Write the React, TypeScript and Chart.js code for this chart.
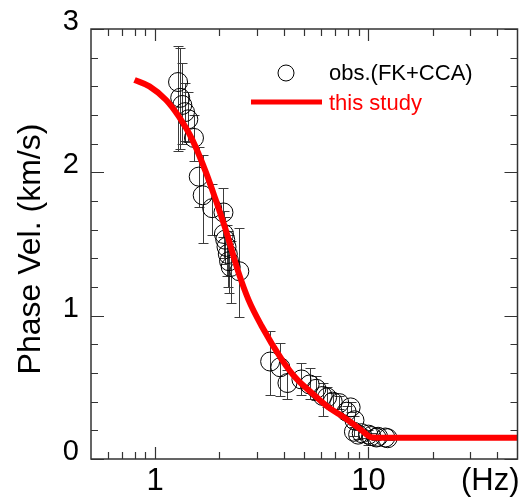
import { useEffect, useRef } from 'react';
import { Chart, registerables } from 'chart.js';

Chart.register(...registerables);

// Observed phase velocities (FK + CCA)
const obsFreq = [1.28, 1.31, 1.34, 1.38, 1.43, 1.52, 1.6, 1.67, 1.85, 2.09, 2.1, 2.13, 2.16, 2.19, 2.22, 2.26, 2.48, 3.46, 3.86, 4.17, 4.85, 5.3, 5.7, 6.1, 6.4, 6.8, 7.3, 7.9, 8.25, 8.6, 8.55, 8.95, 9.3, 10.0, 10.3, 10.9, 11.1, 12.0, 12.3];
const obsVel = [2.63, 2.52, 2.47, 2.42, 2.37, 2.24, 1.97, 1.84, 1.75, 1.72, 1.57, 1.53, 1.48, 1.43, 1.38, 1.34, 1.31, 0.68, 0.64, 0.53, 0.555, 0.52, 0.49, 0.44, 0.43, 0.4, 0.39, 0.33, 0.36, 0.27, 0.19, 0.17, 0.18, 0.17, 0.16, 0.15, 0.155, 0.15, 0.145];
const obsHigh = [2.88, 2.87, 2.76, 2.62, 2.56, 2.4, 2.18, 2.12, 1.92, 1.89, 1.73, 1.69, 1.63, 1.59, 1.56, 1.52, 1.61, 0.89, 0.81, 0.62, 0.67, 0.635, 0.58, 0.53, 0.5, 0.46, 0.44, 0.37, 0.4, 0.3, 0.22, 0.2, 0.21, 0.2, 0.18, 0.17, 0.17, 0.16, 0.155];
const obsLow = [2.15, 2.16, 2.2, 2.22, 2.21, 2.08, 1.76, 1.51, 1.56, 1.55, 1.4, 1.36, 1.28, 1.2, 1.16, 1.09, 0.99, 0.45, 0.44, 0.42, 0.45, 0.42, 0.41, 0.3, 0.36, 0.35, 0.35, 0.3, 0.33, 0.24, 0.16, 0.14, 0.15, 0.1, 0.14, 0.13, 0.14, 0.14, 0.135];

// Theoretical curve (this study)
const modelFreq = [0.8, 0.94, 1.125, 1.29, 1.49, 1.73, 1.92, 2.14, 2.46, 2.74, 3.15, 3.94, 4.53, 5.43, 6.5, 7.7, 9.3, 10.3, 12, 50];
const modelVel = [2.645, 2.6, 2.505, 2.39, 2.23, 2.0, 1.81, 1.6, 1.3, 1.11, 0.93, 0.69, 0.57, 0.46, 0.36, 0.29, 0.2, 0.152, 0.148, 0.148];

// Axes
const xMin = 0.5;
const xMax = 50;
const yMin = 0;
const yMax = 3;
const xMajorTicks = [1, 10];
const xTickLabels = ['1', '10'];
const xMinorTicks = [0.6, 0.7, 0.8, 0.9, 2, 3, 4, 5, 6, 7, 8, 9, 20, 30, 40];
const yMajorTicks = [0, 1, 2, 3];
const yTickLabels = ['0', '1', '2', '3'];
const yMinorTicks = [0.2, 0.4, 0.6, 0.8, 1.2, 1.4, 1.6, 1.8, 2.2, 2.4, 2.6, 2.8];

const xUnitLabel = '(Hz)';
const yTitle = 'Phase Vel. (km/s)';
const obsLabel = 'obs.(FK+CCA)';
const modelLabel = 'this study';

const FONT = '"Liberation Sans", Arial, sans-serif';

const decorPlugin = {
  id: 'decor',
  beforeDatasetsDraw(chart: any) {
    const { ctx, scales } = chart;
    const x = scales.x;
    const y = scales.y;
    ctx.save();
    ctx.strokeStyle = '#3c3c3c';
    ctx.lineWidth = 1;
    obsFreq.forEach((f, i) => {
      const px = Math.round(x.getPixelForValue(f)) + 0.5;
      const yh = Math.round(y.getPixelForValue(obsHigh[i])) + 0.5;
      const yl = Math.round(y.getPixelForValue(obsLow[i])) + 0.5;
      ctx.beginPath();
      ctx.moveTo(px, yh);
      ctx.lineTo(px, yl);
      ctx.moveTo(px - 5, yh);
      ctx.lineTo(px + 5, yh);
      ctx.moveTo(px - 5, yl);
      ctx.lineTo(px + 5, yl);
      ctx.stroke();
    });
    ctx.restore();
  },
  afterDraw(chart: any) {
    const { ctx, chartArea: a, scales } = chart;
    const x = scales.x;
    const y = scales.y;
    ctx.save();
    // frame
    ctx.strokeStyle = '#333';
    ctx.lineWidth = 1.5;
    ctx.strokeRect(a.left, a.top, a.right - a.left, a.bottom - a.top);
    // ticks (inward)
    ctx.lineWidth = 1.2;
    const xt = (vals: number[], len: number) => {
      vals.forEach((v) => {
        const px = Math.round(x.getPixelForValue(v)) + 0.5;
        ctx.beginPath();
        ctx.moveTo(px, a.bottom);
        ctx.lineTo(px, a.bottom - len);
        ctx.moveTo(px, a.top);
        ctx.lineTo(px, a.top + len);
        ctx.stroke();
      });
    };
    const yt = (vals: number[], len: number) => {
      vals.forEach((v) => {
        const py = Math.round(y.getPixelForValue(v)) + 0.5;
        ctx.beginPath();
        ctx.moveTo(a.left, py);
        ctx.lineTo(a.left + len, py);
        ctx.moveTo(a.right, py);
        ctx.lineTo(a.right - len, py);
        ctx.stroke();
      });
    };
    xt(xMajorTicks, 12);
    xt(xMinorTicks, 7);
    yt(yMajorTicks, 13);
    yt(yMinorTicks, 7);

    // tick labels
    ctx.fillStyle = '#000';
    ctx.font = `29px ${FONT}`;
    ctx.textAlign = 'right';
    ctx.textBaseline = 'middle';
    yMajorTicks.forEach((v, i) => {
      ctx.fillText(yTickLabels[i], a.left - 12, y.getPixelForValue(v) - 7);
    });
    ctx.font = `31px ${FONT}`;
    ctx.textAlign = 'center';
    xMajorTicks.forEach((v, i) => {
      ctx.fillText(xTickLabels[i], x.getPixelForValue(v), a.bottom + 22);
    });
    ctx.textAlign = 'right';
    ctx.fillText(xUnitLabel, a.right + 2, a.bottom + 22);

    // y title
    ctx.save();
    ctx.translate(31, 249);
    ctx.rotate(-Math.PI / 2);
    ctx.textAlign = 'center';
    ctx.font = `32px ${FONT}`;
    ctx.fillText(yTitle, 0, 0);
    ctx.restore();

    // legend
    ctx.lineWidth = 1;
    ctx.strokeStyle = '#000';
    ctx.beginPath();
    ctx.arc(286, 73, 8, 0, Math.PI * 2);
    ctx.stroke();
    ctx.font = `22px ${FONT}`;
    ctx.textAlign = 'left';
    ctx.fillStyle = '#000';
    ctx.fillText(obsLabel, 329, 74);
    ctx.strokeStyle = '#ff0000';
    ctx.lineWidth = 5;
    ctx.beginPath();
    ctx.moveTo(251, 102);
    ctx.lineTo(322, 102);
    ctx.stroke();
    ctx.fillStyle = '#ff0000';
    ctx.fillText(modelLabel, 329, 104);
    ctx.restore();
  },
};

export default function App() {
  const ref = useRef<HTMLCanvasElement>(null);
  useEffect(() => {
    if (!ref.current) return;
    const chart = new Chart(ref.current, {
      type: 'scatter',
      data: {
        datasets: [
          {
            label: modelLabel,
            data: modelFreq.map((f, i) => ({ x: f, y: modelVel[i] })),
            showLine: true,
            borderColor: '#ff0000',
            borderWidth: 6,
            pointRadius: 0,
            cubicInterpolationMode: 'monotone',
            order: 0,
          },
          {
            label: obsLabel,
            data: obsFreq.map((f, i) => ({ x: f, y: obsVel[i] })),
            showLine: false,
            pointRadius: 9.5,
            pointStyle: 'circle',
            borderColor: '#000',
            borderWidth: 1,
            backgroundColor: 'rgba(0,0,0,0)',
            order: 1,
          },
        ],
      } as any,
      options: {
        responsive: false,
        animation: false,
        devicePixelRatio: 1,
        layout: { padding: { left: 91, top: 29, right: 7, bottom: 39 } },
        plugins: { legend: { display: false }, tooltip: { enabled: false } },
        scales: {
          x: { type: 'logarithmic', min: xMin, max: xMax, display: false },
          y: { type: 'linear', min: yMin, max: yMax, display: false },
        },
      } as any,
      plugins: [decorPlugin],
    });
    return () => chart.destroy();
  }, []);
  return (
    <div style={{ position: 'absolute', left: 0, top: 0, width: 528, height: 498, background: '#fff' }}>
      <canvas ref={ref} width={528} height={498} />
    </div>
  );
}
